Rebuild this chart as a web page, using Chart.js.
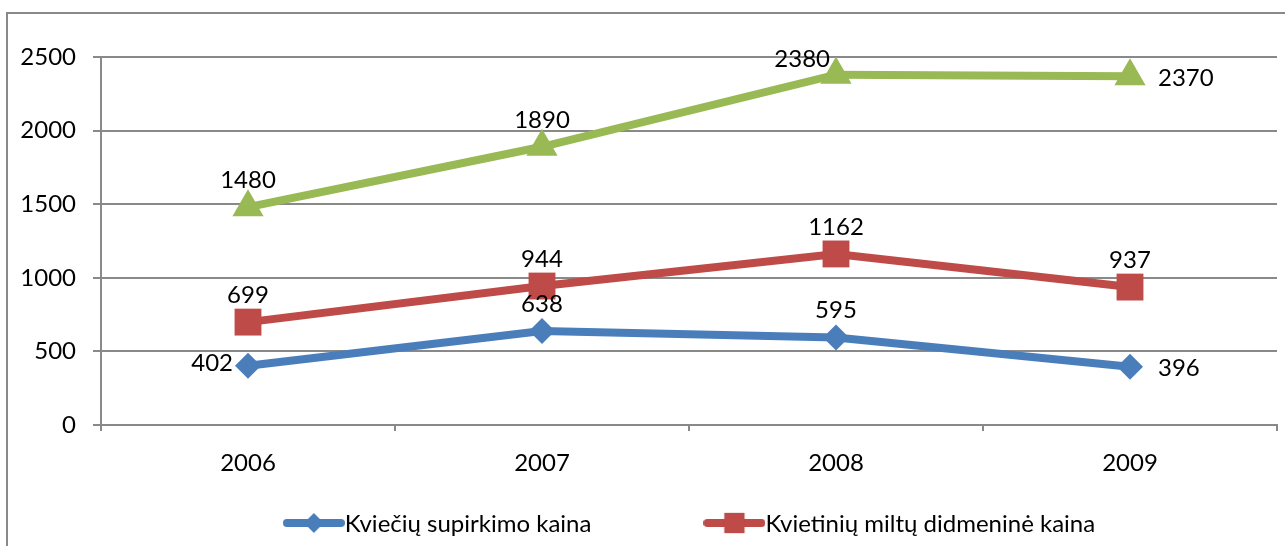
<!DOCTYPE html>
<html>
<head>
<meta charset="utf-8">
<script src="https://cdn.jsdelivr.net/npm/chart.js@4/dist/chart.umd.min.js"></script>
<style>
  html, body { margin: 0; padding: 0; background: #fff; overflow: hidden; }
</style>
</head>
<body>
<canvas id="priceChart" width="1285" height="546"></canvas>
<script>
// data
var years = ['2006', '2007', '2008', '2009'];
var wheatPrice = [402, 638, 595, 396];
var flourPrice = [699, 944, 1162, 937];
var greenPrice = [1480, 1890, 2380, 2370];
var yMin = 0, yMax = 2500, yStep = 500;

// where each value label sits relative to its point
var wheatLabelPos = ['left', 'above', 'above', 'right'];
var flourLabelPos = ['above', 'above', 'above', 'above'];
var greenLabelPos = ['above', 'above', 'upleft', 'right'];

var FONT = 'Lato, "Open Sans", sans-serif';
var gridColor = '#898989';

var valueLabels = {
    id: 'valueLabels',
    afterDatasetsDraw: function (chart) {
        var ctx = chart.ctx;
        ctx.save();
        ctx.font = '24px ' + FONT;
        ctx.fillStyle = '#000';
        ctx.textBaseline = 'middle';
        chart.data.datasets.forEach(function (ds, di) {
            var meta = chart.getDatasetMeta(di);
            meta.data.forEach(function (pt, i) {
                var pos = ds.labelPos[i];
                var txt = String(ds.data[i]);
                if (pos == 'left') {
                    ctx.textAlign = 'right';
                    ctx.fillText(txt, pt.x - 15, pt.y - 3);
                } else if (pos == 'right') {
                    ctx.textAlign = 'left';
                    ctx.fillText(txt, pt.x + 28, pt.y + 2);
                } else if (pos == 'upleft') {
                    ctx.textAlign = 'right';
                    ctx.fillText(txt, pt.x - 6, pt.y - 15);
                } else {
                    ctx.textAlign = 'center';
                    ctx.fillText(txt, pt.x, pt.y - 27);
                }
            });
        });
        ctx.restore();
    }
};

// outer frame of the chart object (only top and left edges are in view)
var frame = {
    id: 'frame',
    beforeDraw: function (chart) {
        var ctx = chart.ctx;
        ctx.save();
        ctx.strokeStyle = gridColor;
        ctx.lineWidth = 2;
        ctx.strokeRect(7, 13, 1400, 1000);
        ctx.restore();
    }
};

function legendMark(ds) {
    var c = document.createElement('canvas');
    c.width = 62; c.height = 30;
    var g = c.getContext('2d');
    g.strokeStyle = ds.borderColor;
    g.lineWidth = 8;
    g.lineCap = 'round';
    g.beginPath(); g.moveTo(4, 15); g.lineTo(58, 15); g.stroke();
    g.fillStyle = ds.borderColor;
    Chart.helpers.drawPoint(g, { pointStyle: ds.pointStyle, radius: ds.pointRadius * 0.75, borderWidth: 0 }, 31, 15);
    g.fill();
    return c;
}

// bottom legend: only the first two entries fit in the picture
var bottomLegend = {
    id: 'bottomLegend',
    afterDraw: function (chart) {
        var ctx = chart.ctx;
        var items = chart.data.datasets.filter(function (ds) { return ds.inLegend; });
        ctx.save();
        ctx.font = '24px ' + FONT;
        ctx.textBaseline = 'middle';
        ctx.textAlign = 'left';
        var gap = 112, markW = 62;
        var total = 0;
        items.forEach(function (ds, i) {
            total += markW + ctx.measureText(ds.label).width + (i ? gap : 0);
        });
        var area = chart.chartArea;
        var x = (area.left + area.right) / 2 - total / 2;
        var y = 523;
        items.forEach(function (ds) {
            ctx.drawImage(legendMark(ds), x, y - 15);
            ctx.fillStyle = '#000';
            ctx.fillText(ds.label, x + markW, y + 1);
            x += markW + ctx.measureText(ds.label).width + gap;
        });
        ctx.restore();
    }
};

new Chart(document.getElementById('priceChart'), {
    type: 'line',
    data: {
        labels: years,
        datasets: [{
            label: 'Kviečių supirkimo kaina',
            data: wheatPrice,
            labelPos: wheatLabelPos,
            inLegend: true,
            borderColor: '#4a7ebb',
            backgroundColor: '#4a7ebb',
            borderWidth: 8,
            pointStyle: 'rectRot',
            pointRadius: 13,
            pointBorderWidth: 0
        }, {
            label: 'Kvietinių miltų didmeninė kaina',
            data: flourPrice,
            labelPos: flourLabelPos,
            inLegend: true,
            borderColor: '#be4b48',
            backgroundColor: '#be4b48',
            borderWidth: 8,
            pointStyle: 'rect',
            pointRadius: 19,
            pointBorderWidth: 0
        }, {
            label: '',
            data: greenPrice,
            labelPos: greenLabelPos,
            inLegend: false,
            borderColor: '#98b954',
            backgroundColor: '#98b954',
            borderWidth: 8,
            pointStyle: 'triangle',
            pointRadius: 18,
            pointBorderWidth: 0
        }]
    },
    options: {
        responsive: false,
        animation: false,
        layout: { autoPadding: false, padding: { left: 0, top: 57, right: 8, bottom: 61 } },
        elements: { line: { tension: 0 } },
        plugins: {
            legend: { display: false },
            tooltip: { enabled: false }
        },
        scales: {
            x: {
                offset: true,
                afterFit: function (scale) {
                    scale.height = 60;
                    scale.paddingLeft = 0;
                    scale.paddingRight = 0;
                },
                grid: {
                    offset: true,
                    drawOnChartArea: false,
                    tickLength: 6,
                    color: gridColor,
                    lineWidth: 2
                },
                border: { color: gridColor, width: 2 },
                ticks: { color: '#000', font: { family: FONT, size: 24 }, padding: 18 }
            },
            y: {
                min: yMin,
                max: yMax,
                afterFit: function (scale) { scale.width = 101; },
                grid: { color: gridColor, lineWidth: 2, tickLength: 8 },
                border: { color: gridColor, width: 2 },
                ticks: {
                    stepSize: yStep,
                    color: '#000',
                    font: { family: FONT, size: 24 },
                    padding: 17,
                    callback: function (v) { return String(v); }
                }
            }
        }
    },
    plugins: [frame, valueLabels, bottomLegend]
});
</script>
</body>
</html>
